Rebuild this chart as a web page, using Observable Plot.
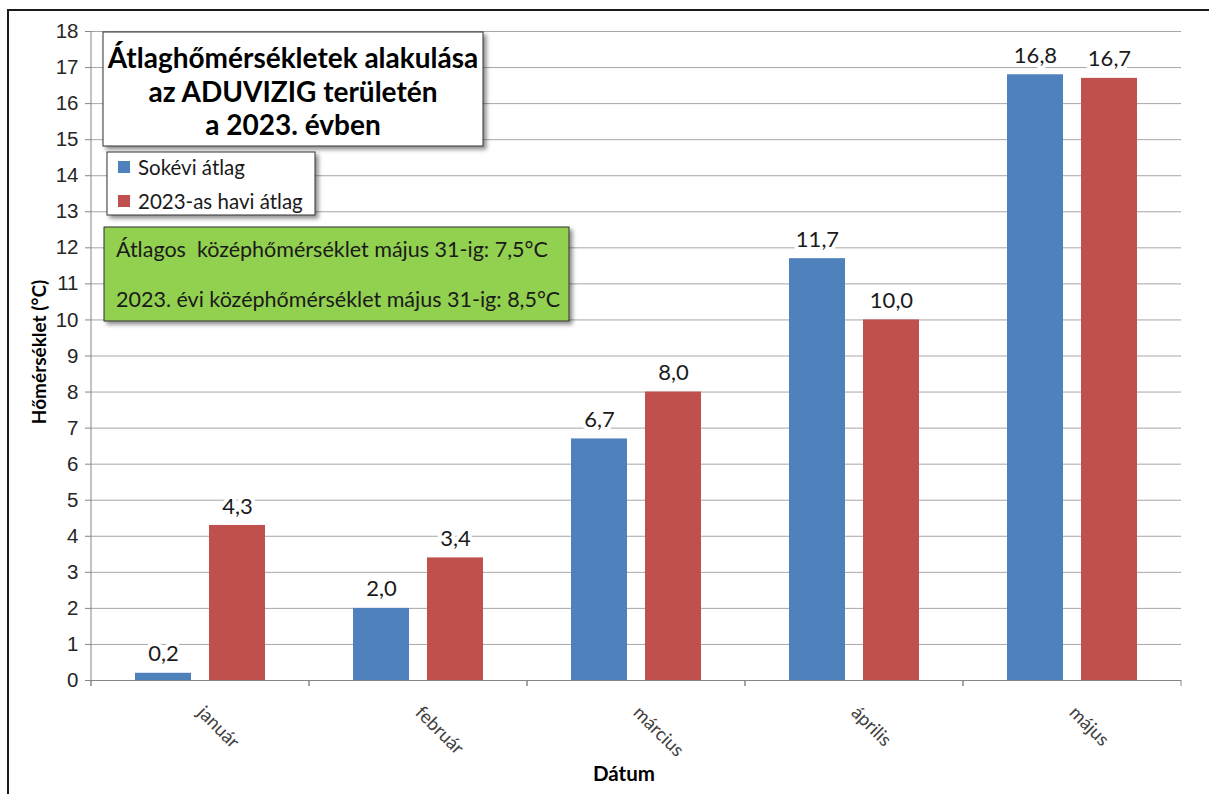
<!DOCTYPE html>
<html><head><meta charset="utf-8">
<script src="https://cdn.jsdelivr.net/npm/d3@7"></script>
<script src="https://cdn.jsdelivr.net/npm/@observablehq/plot@0.6"></script>
<style>body{margin:0;background:#fff} #chart{width:1209px;height:794px;overflow:hidden}</style>
</head><body><div id="chart"></div>
<script>
const months = ["január", "február", "március", "április", "május"];
const series = ["Sokévi átlag", "2023-as havi átlag"];
const longTermAvg = [0.2, 2.0, 6.7, 11.7, 16.8];
const avg2023 = [4.3, 3.4, 8.0, 10.0, 16.7];
const colors = ["#4f81bd", "#c0504d"];
const yTicks = [0,1,2,3,4,5,6,7,8,9,10,11,12,13,14,15,16,17,18];
const titleLines = ["Átlaghőmérsékletek alakulása", "az ADUVIZIG területén", "a 2023. évben"];
const noteLines = ["Átlagos  középhőmérséklet május 31-ig: 7,5°C", "2023. évi középhőmérséklet május 31-ig: 8,5°C"];
const yTitle = "Hőmérséklet (°C)";
const xTitle = "Dátum";

const data = months.flatMap((m, i) => [
  {month: m, series: series[0], value: longTermAvg[i]},
  {month: m, series: series[1], value: avg2023[i]}
]);
const fmt = v => v.toFixed(1).replace(".", ",");

const plot = Plot.plot({
  width: 1209, height: 794,
  marginLeft: 90, marginRight: 27, marginTop: 31, marginBottom: 114,
  style: {fontFamily: "Lato", background: "white"},
  fx: {domain: months, padding: 0, label: null},
  x: {domain: series, paddingInner: 0.24, paddingOuter: 0.576, axis: null},
  y: {domain: [0, 18], axis: null},
  color: {domain: series, range: colors},
  marks: [
    Plot.gridY(yTicks, {stroke: "#a6a6a6", strokeOpacity: 1}),
    Plot.barY(data, {fx: "month", x: "series", y: "value", fill: "series"}),
    Plot.text(data, {fx: "month", x: "series", y: "value", text: d => fmt(d.value), dy: -19,
      fontSize: 22, fill: "#1a1a1a", stroke: "white", strokeWidth: 8}),
    Plot.ruleY([0], {stroke: "#868686"}),
    Plot.axisY(yTicks, {tickSize: 6, tickPadding: 7, fontSize: 20.5, fontFamily: "Liberation Sans",
      label: null, stroke: "#868686", fill: "#262626"}),
    Plot.axisFx({anchor: "bottom", tickRotate: 45, tickSize: 0, tickPadding: 29, fontSize: 18.5,
      label: null, fill: "#404040"})
  ]
});
document.getElementById("chart").appendChild(plot);

const svg = d3.select(plot);
const fx = plot.scale("fx");
const y = plot.scale("y");
const y0 = y.apply(0), yTop = y.apply(18);
const left = fx.apply(months[0]);
const bw = fx.bandwidth;

// y axis line
svg.append("line").attr("x1", left).attr("x2", left).attr("y1", yTop).attr("y2", y0 + 6)
  .attr("stroke", "#868686");
// category tick marks
months.forEach(m => {
  const xs = fx.apply(m);
  [xs, xs + bw].forEach(xx => svg.append("line").attr("x1", xx).attr("x2", xx)
    .attr("y1", y0).attr("y2", y0 + 6).attr("stroke", "#868686"));
});

// outer border
svg.append("path").attr("d", "M8,794V10H1209").attr("fill", "none").attr("stroke", "#1a1a1a").attr("stroke-width", 2);

// shadow filter
const defs = svg.append("defs");
const f = defs.append("filter").attr("id", "sh").attr("x", "-5%").attr("y", "-5%").attr("width", "115%").attr("height", "125%");
f.append("feDropShadow").attr("dx", 3).attr("dy", 3).attr("stdDeviation", 2).attr("flood-color", "#000").attr("flood-opacity", 0.45);

// title box
svg.append("rect").attr("x", 103).attr("y", 32).attr("width", 380).attr("height", 114)
  .attr("fill", "white").attr("stroke", "#333").attr("filter", "url(#sh)");
titleLines.forEach((t, i) => svg.append("text").text(t).attr("x", 293).attr("y", 57 + i * 33.5)
  .attr("text-anchor", "middle").attr("dominant-baseline", "central")
  .attr("font-family", "Lato").attr("font-weight", "bold").attr("font-size", 28).attr("fill", "#000"));

// legend box
svg.append("rect").attr("x", 107).attr("y", 152).attr("width", 208).attr("height", 63)
  .attr("fill", "white").attr("stroke", "#333").attr("filter", "url(#sh)");
series.forEach((s, i) => {
  const cy = 167 + i * 34;
  svg.append("rect").attr("x", 118).attr("y", cy - 6).attr("width", 12).attr("height", 12).attr("fill", colors[i]);
  svg.append("text").text(s).attr("x", 138).attr("y", cy).attr("text-anchor", "start")
    .attr("dominant-baseline", "central")
    .attr("font-family", "Lato").attr("font-size", 20.5).attr("fill", "#1a1a1a");
});

// green note box
svg.append("rect").attr("x", 104).attr("y", 227).attr("width", 465).attr("height", 94)
  .attr("fill", "#92d050").attr("stroke", "#333").attr("filter", "url(#sh)");
noteLines.forEach((t, i) => svg.append("text").text(t).attr("x", 116).attr("y", 249 + i * 50)
  .attr("text-anchor", "start")
  .attr("dominant-baseline", "central").attr("font-family", "Lato").attr("font-size", 21.5)
  .attr("fill", "#1a1a1a").style("white-space", "pre"));

// axis titles
svg.append("text").text(yTitle).attr("transform", "translate(38,352) rotate(-90)")
  .attr("text-anchor", "middle").attr("dominant-baseline", "central")
  .attr("font-family", "Lato").attr("font-weight", "bold").attr("font-size", 19).attr("fill", "#000");
svg.append("text").text(xTitle).attr("x", 624).attr("y", 773)
  .attr("text-anchor", "middle").attr("dominant-baseline", "central")
  .attr("font-family", "Lato").attr("font-weight", "bold").attr("font-size", 20.5).attr("fill", "#000");
</script>
</body></html>
